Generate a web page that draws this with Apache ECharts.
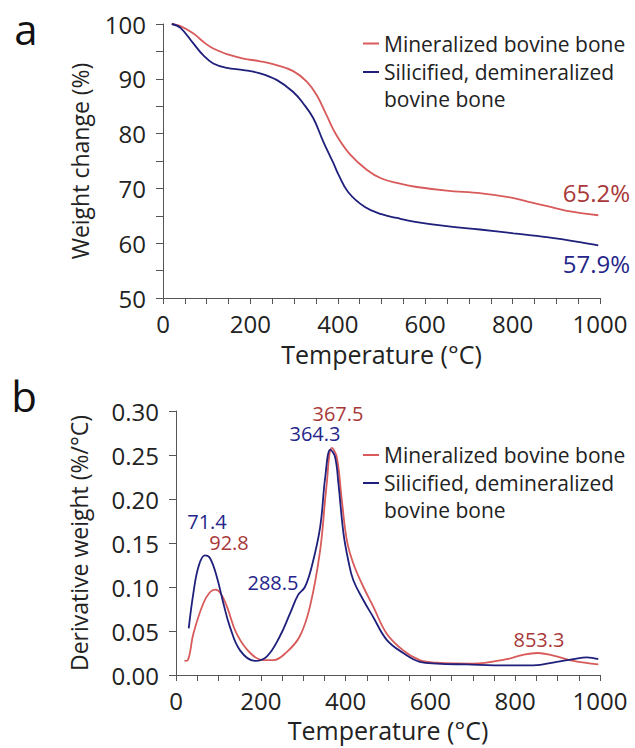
<!DOCTYPE html>
<html>
<head>
<meta charset="utf-8">
<script src="https://cdn.jsdelivr.net/npm/echarts@6/dist/echarts.min.js"></script>
<style>
  html, body { margin: 0; padding: 0; background: #fff; }
  #chart { width: 635px; height: 748px; }
</style>
</head>
<body>
<div id="chart"></div>
<script>
// panel a: TGA weight curves
const tempRedA = [20, 40, 69, 90, 107, 130, 146, 184, 222, 260, 298, 329, 352, 374, 397, 428, 466, 500, 540, 577, 649, 729, 805, 840, 882, 924, 996];
const weightRedA = [100, 99.6, 98.3, 96.9, 95.9, 95.0, 94.5, 93.7, 93.2, 92.5, 91.4, 89.5, 87.0, 83.4, 79.7, 76.2, 73.4, 71.8, 70.9, 70.3, 69.6, 69.1, 68.2, 67.5, 66.7, 65.9, 65.1];
const tempBlueA = [20, 40, 69, 92, 115, 146, 184, 222, 260, 298, 321, 344, 367, 390, 401, 424, 462, 500, 535, 577, 649, 725, 802, 878, 954, 996];
const weightBlueA = [100, 99.3, 96.5, 94.3, 92.8, 92.0, 91.6, 91.0, 89.8, 87.6, 85.5, 82.8, 78.5, 74.6, 72.6, 69.3, 66.6, 65.3, 64.6, 63.9, 63.1, 62.5, 61.8, 61.1, 60.2, 59.6];

// panel b: derivative curves
const tempRedB = [20, 28, 41, 64, 80, 93, 105, 120, 143, 175, 206, 230, 261, 292, 316, 340, 355, 367.5, 379, 391, 403, 418, 442, 465, 497, 536, 575, 615, 701, 780, 819, 853, 890, 937, 996];
const derivRedB = [0.016, 0.017, 0.047, 0.081, 0.094, 0.097, 0.093, 0.078, 0.047, 0.025, 0.017, 0.017, 0.026, 0.044, 0.078, 0.142, 0.215, 0.258, 0.248, 0.199, 0.153, 0.127, 0.100, 0.078, 0.047, 0.028, 0.017, 0.014, 0.013, 0.018, 0.023, 0.025, 0.022, 0.016, 0.012];
const tempBlueB = [30, 41, 53, 68, 80, 96, 112, 127, 151, 186, 214, 245, 269, 288, 304, 320, 340, 352, 364, 375, 383, 395, 406, 418, 442, 465, 497, 536, 575, 615, 685, 780, 843, 898, 937, 969, 996];
const derivBlueB = [0.053, 0.093, 0.123, 0.136, 0.133, 0.112, 0.081, 0.055, 0.028, 0.016, 0.021, 0.044, 0.070, 0.091, 0.100, 0.123, 0.168, 0.225, 0.256, 0.248, 0.218, 0.161, 0.131, 0.108, 0.085, 0.066, 0.040, 0.025, 0.015, 0.013, 0.012, 0.011, 0.011, 0.015, 0.018, 0.020, 0.018];

const nameRed = 'Mineralized bovine bone';
const nameBlue = 'Silicified, demineralized bovine bone';

const FONT = '"Open Sans", "DejaVu Sans", sans-serif';
const RED = '#d95a5a';
const BLUE = '#1f1f7c';
const RED_TXT = '#a83838';
const BLUE_TXT = '#25258a';
const AXIS = '#555';

const pairs = (xs, ys) => xs.map((x, i) => [x, ys[i]]);

function xAxisCfg(gridIndex, gap) {
  return {
    gridIndex: gridIndex, type: 'value', min: 0, max: 1000, interval: 200,
    name: 'Temperature (°C)', nameLocation: 'middle', nameGap: gap,
    nameTextStyle: {fontFamily: FONT, fontSize: 25, color: '#222'},
    axisLine: {show: true, onZero: false, lineStyle: {color: AXIS, width: 1}},
    axisTick: {show: true, length: 6, lineStyle: {color: AXIS}},
    minorTick: {show: true, splitNumber: 4, length: 6, lineStyle: {color: AXIS}},
    axisLabel: {fontFamily: FONT, fontSize: 24, color: '#222', margin: 13,
      formatter: v => String(v)},
    splitLine: {show: false}, minorSplitLine: {show: false}
  };
}

function lineSeries(name, data, color, xi) {
  return {
    name: name, type: 'line', xAxisIndex: xi, yAxisIndex: xi,
    data: data, smooth: 0.4, showSymbol: false, symbol: 'none',
    lineStyle: {color: color, width: 1.8}, itemStyle: {color: color},
    animation: false
  };
}

// the two-line legend entry gets an empty first line so its icon sits on the middle line
function legendCfg(name, top, twoLine) {
  return {
    data: [name], orient: 'vertical', left: 363, top: top, padding: 0,
    icon: 'rect', itemWidth: 16, itemHeight: 2,
    selectedMode: false,
    formatter: n => twoLine ? ' \nSilicified, demineralized\nbovine bone' : n,
    textStyle: {fontFamily: FONT, fontSize: 21, color: '#222', lineHeight: 27}
  };
}

function txt(text, x, y, color, size, align) {
  return {
    type: 'text', x: x, y: y,
    style: {text: text, fill: color, font: size + 'px ' + FONT,
      align: align || 'center', verticalAlign: 'middle'}
  };
}

const chart = echarts.init(document.getElementById('chart'), null, {renderer: 'svg'});

chart.setOption({
  backgroundColor: '#fff',
  animation: false,
  grid: [
    {left: 163, top: 24, width: 437, height: 274},
    {left: 176, top: 411, width: 424, height: 264}
  ],
  xAxis: [xAxisCfg(0, 43), xAxisCfg(1, 42)],
  yAxis: [
    {
      gridIndex: 0, type: 'value', min: 50, max: 100, interval: 10,
      name: 'Weight change (%)', nameLocation: 'middle', nameGap: 72,
      nameTextStyle: {fontFamily: FONT, fontSize: 23, color: '#222'},
      axisLine: {show: true, lineStyle: {color: AXIS}},
      axisTick: {show: true, length: 7, lineStyle: {color: AXIS}},
      minorTick: {show: true, splitNumber: 2, length: 7, lineStyle: {color: AXIS}},
      axisLabel: {fontFamily: FONT, fontSize: 24, color: '#222', margin: 17},
      splitLine: {show: false}
    },
    {
      gridIndex: 1, type: 'value', min: 0, max: 0.3, interval: 0.05,
      name: 'Derivative weight (%/°C)', nameLocation: 'middle', nameGap: 86,
      nameTextStyle: {fontFamily: FONT, fontSize: 23, color: '#222'},
      axisLine: {show: true, lineStyle: {color: AXIS}},
      axisTick: {show: true, length: 7, lineStyle: {color: AXIS}},
      axisLabel: {fontFamily: FONT, fontSize: 24, color: '#222', margin: 17,
        formatter: v => v.toFixed(2)},
      splitLine: {show: false}
    }
  ],
  legend: [
    legendCfg(nameRed, 30, false),
    legendCfg(nameBlue, 31.5, true),
    legendCfg(nameRed, 441.5, false),
    legendCfg(nameBlue, 442.5, true)
  ],
  series: [
    lineSeries(nameRed, pairs(tempRedA, weightRedA), RED, 0),
    lineSeries(nameBlue, pairs(tempBlueA, weightBlueA), BLUE, 0),
    lineSeries(nameRed, pairs(tempRedB, derivRedB), RED, 1),
    lineSeries(nameBlue, pairs(tempBlueB, derivBlueB), BLUE, 1)
  ],
  graphic: [
    txt('a', 26, 28, '#111', 42),
    txt('b', 24, 395, '#111', 42),
    txt('65.2%', 630, 192, RED_TXT, 24, 'right'),
    txt('57.9%', 630, 263, BLUE_TXT, 24, 'right'),
    txt('367.5', 338, 413, RED_TXT, 20),
    txt('364.3', 315, 433, BLUE_TXT, 20),
    txt('71.4', 207, 521, BLUE_TXT, 20),
    txt('92.8', 229, 542, RED_TXT, 20),
    txt('288.5', 273, 582, BLUE_TXT, 20),
    txt('853.3', 539, 639, RED_TXT, 20)
  ]
});
</script>
</body>
</html>
